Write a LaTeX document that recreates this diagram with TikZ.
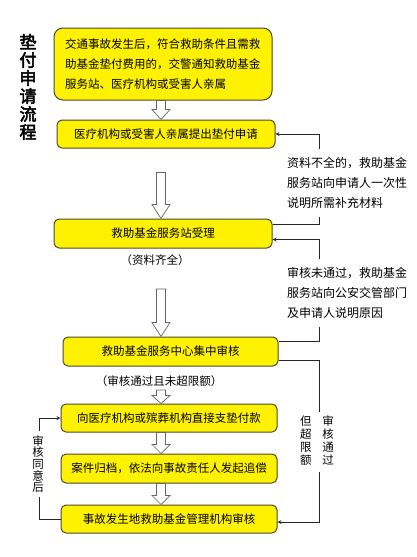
\documentclass[tikz,border=0pt]{standalone}
\usepackage{fontspec}
\setmainfont{Noto Sans CJK SC}
\newfontfamily\titlefont[FakeBold=3]{Noto Sans CJK SC}
\usepackage{xcolor}
\usepackage{tikz}
\usetikzlibrary{positioning,calc}
\definecolor{boxline}{HTML}{4A4A30}

% hollow block arrow: [head length]{start}{tip}
\newcommand{\fatarrow}[3][12pt]{%
  \filldraw[fat] let \p1=#2, \p2=#3 in
    (\x1-4.5pt,\y1) -- (\x1-4.5pt,\y2+#1) -- (\x1-9pt,\y2+#1) -- (\x1,\y2)
    -- (\x1+9pt,\y2+#1) -- (\x1+4.5pt,\y2+#1) -- (\x1+4.5pt,\y1) -- cycle;}

\begin{document}
\begin{tikzpicture}[x=1pt, y=-1pt, >=stealth,
  box/.style={draw=boxline, line width=1pt, fill=yellow, rounded corners=5pt, minimum width=216pt, minimum height=28pt, inner sep=0pt, font=\fontsize{11.5}{20}\selectfont},
  fat/.style={draw=black!60, fill=white, line width=0.7pt},
  link/.style={draw=black!85, line width=0.8pt},
  note/.style={fill=white, inner xsep=0pt, inner ysep=8pt, align=left, text width=122pt, font=\fontsize{12}{20}\selectfont},
  vlabel/.style={fill=white, inner xsep=2pt, inner ysep=4pt, align=center, font=\fontsize{11.5}{11.6}\selectfont}]
\useasboundingbox (0,0) rectangle (416,557);

% Title
\node[align=center, font=\titlefont\fontsize{17}{18}\selectfont] (title) at (28,87) {垫\\付\\申\\请\\流\\程};

% Nodes
\node[box, rounded corners=9pt, minimum width=218pt, minimum height=72pt, text width=196pt, align=left] (box1) at (163,64) {
    交通事故发生后，符合救助条件且需救\\
    助基金垫付费用的，交警通知救助基金\\
    服务站、医疗机构或受害人亲属
};
\node[box, minimum width=218pt] (box2) at (166,134) {医疗机构或受害人亲属提出垫付申请};
\node[box, minimum width=218pt, minimum height=29pt] (box3) at (163,233.5) {救助基金服务站受理};
\node[font=\fontsize{11.5}{14}\selectfont] (ok1) at (155,260) {（资料齐全）};
\node[box, minimum width=215pt, minimum height=29pt] (box4) at (170.5,351.5) {救助基金服务中心集中审核};
\node[font=\fontsize{11.5}{14}\selectfont] (ok2) at (159,381) {（审核通过且未超限额）};
\node[box] (box5) at (169,418) {向医疗机构或殡葬机构直接支垫付款};
\node[box, minimum height=29pt, below=21pt of box5] (box6) {案件归档，依法向事故责任人发起追偿};
\node[box, below=21pt of box6] (box7) {事故发生地救助基金管理机构审核};

% Block arrows
\coordinate (ax) at (161,0);
\fatarrow[10pt]{(box1.south -| ax)}{(box2.north -| ax)}
\fatarrow[14pt]{($(box2.south -| ax)+(0,24)$)}{(box3.north -| ax)}
\fatarrow[14pt]{($(ok1.south -| ax)+(0,20)$)}{(box4.north -| ax)}
\fatarrow[8pt]{(ok2.south -| ax)}{(box5.north -| ax)}
\fatarrow[9pt]{(box5.south -| ax)}{(box6.north -| ax)}
\fatarrow[9pt]{(box6.south -| ax)}{(box7.north -| ax)}

% Feedback lines
\coordinate (rx) at (319,0);
\coordinate (lx) at (39,0);
\coordinate (in3) at ($(box3.east)+(0,6)$);
\coordinate (in7) at ($(box7.east)+(0,3)$);
\draw[link, ->] ($(box3.north east)+(0,6)$) -| (rx |- box2.east) -- (box2.east);
\draw[link, ->] ($(box4.north east)+(0,5)$) -| (rx |- in3) -- (in3);
\draw[link, ->] ($(box4.south east)+(0,-6)$) -| (rx |- in7) -- (in7);
\draw[link, ->] (box7.west) -| (lx |- box5.west) -- (box5.west);

% Labels on the lines
\node[note, anchor=west] (lack) at (287,183) {资料不全的，救助基金\\服务站向申请人一次性\\说明所需补充材料};
\node[note, anchor=west] (reject) at (287,293) {审核未通过，救助基金\\服务站向公安交管部门\\及申请人说明原因};
\node[vlabel] (excess) at (317,442) {\begin{tabular}{@{}c@{\hspace{11pt}}c@{}}但&审\\超&核\\限&通\\额&过\end{tabular}};
\node[vlabel] (agree) at (38,464) {审\\核\\同\\意\\后};

\end{tikzpicture}
\end{document}
